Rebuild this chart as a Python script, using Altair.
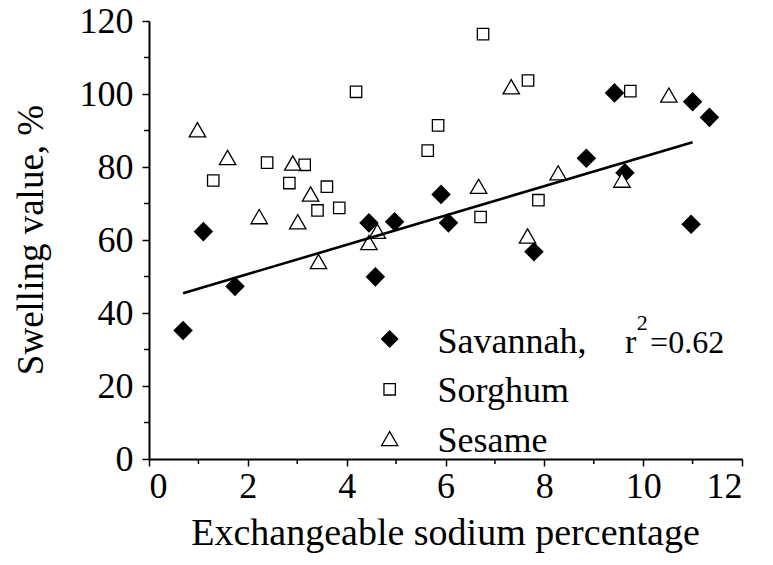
import altair as alt
import pandas as pd

# Savannah (filled diamonds)
sav_x = [0.69, 1.10, 1.74, 4.45, 4.58, 4.97, 5.91, 6.06, 7.79, 8.85, 9.42, 9.63, 10.97, 11.00, 11.34]
sav_y = [35.2, 62.3, 47.3, 64.7, 49.9, 65.0, 72.5, 64.7, 56.8, 82.4, 100.3, 78.4, 64.3, 97.9, 93.6]
# Sorghum (open squares)
sor_x = [1.30, 2.39, 2.84, 3.15, 3.41, 3.60, 3.85, 4.19, 5.64, 5.85, 6.71, 6.76, 7.67, 7.88, 9.74]
sor_y = [76.3, 81.2, 75.6, 80.6, 68.1, 74.6, 68.8, 100.6, 84.5, 91.4, 66.3, 116.4, 103.7, 70.9, 100.8]
# Sesame (open triangles)
ses_x = [0.98, 1.59, 2.23, 2.91, 3.01, 3.27, 3.43, 4.45, 4.62, 6.67, 7.33, 7.66, 8.28, 9.57, 10.52]
ses_y = [90.2, 82.6, 66.4, 81.1, 65.0, 72.6, 54.1, 59.3, 62.4, 74.7, 102.0, 61.1, 78.4, 76.4, 99.7]
# Savannah fit line end points
fit_x = [0.69, 11.0]
fit_y = [45.4, 86.8]

legend_labels = ["Savannah,", "Sorghum", "Sesame"]
x_major = [0, 2, 4, 6, 8, 10, 12]
y_major = [0, 20, 40, 60, 80, 100, 120]
x_minor = [1, 3, 5, 7, 9, 11]
y_minor = [10, 30, 50, 70, 90, 110]
x_title = "Exchangeable sodium percentage"
y_title = "Swelling value, %"

F = "Liberation Serif"
PLOT_H = 438

xs = alt.Scale(domain=[0, 12])
ys = alt.Scale(domain=[0, 120])

xaxis = alt.Axis(values=x_major, labelFont=F, labelFontSize=36, title=None, grid=False, tickSize=7,
                 labelPadding=3, domainColor="black", tickColor="black",
                 domainWidth=2, tickWidth=1.5, labelColor="black")
yaxis = alt.Axis(values=y_major, labelFont=F, labelFontSize=36, title=None, grid=False, tickSize=7,
                 labelPadding=9, domainColor="black", tickColor="black",
                 domainWidth=2, tickWidth=1.5, labelColor="black")

def pts(xv, yv):
    return pd.DataFrame({"x": xv, "y": yv})

sav = alt.Chart(pts(sav_x, sav_y)).mark_point(shape="diamond", filled=True, fill="black",
                                              stroke="black", size=280, opacity=1).encode(
    x=alt.X("x:Q", scale=xs, axis=xaxis), y=alt.Y("y:Q", scale=ys, axis=yaxis))
sor = alt.Chart(pts(sor_x, sor_y)).mark_point(shape="square", filled=True, fill="white",
                                              stroke="black", strokeWidth=1.3, size=130, opacity=1).encode(
    x=alt.X("x:Q", scale=xs), y=alt.Y("y:Q", scale=ys))
ses = alt.Chart(pts(ses_x, ses_y)).mark_point(shape="triangle-up", filled=True, fill="white",
                                              stroke="black", strokeWidth=1.3, size=270, opacity=1).encode(
    x=alt.X("x:Q", scale=xs), y=alt.Y("y:Q", scale=ys))
fit = alt.Chart(pts(fit_x, fit_y)).mark_line(color="black", strokeWidth=2.6).encode(
    x=alt.X("x:Q", scale=xs), y=alt.Y("y:Q", scale=ys))

# minor ticks (outward, shorter than major ticks)
xminor = alt.Chart(pd.DataFrame({"x": x_minor})).mark_rule(color="black", strokeWidth=1.5).encode(
    x=alt.X("x:Q", scale=xs), y=alt.value(PLOT_H), y2=alt.value(PLOT_H + 5))
yminor = alt.Chart(pd.DataFrame({"y": y_minor})).mark_rule(color="black", strokeWidth=1.5).encode(
    y=alt.Y("y:Q", scale=ys), x=alt.value(0), x2=alt.value(-5))

# Custom legend
leg_sym_x = 4.87
leg_sym_y = [32.9, 19.1, 5.6]
leg_txt_x = 5.84
leg_txt_y = [29.0, 15.6, 1.9]

def sym(y, shape, fill, size):
    return alt.Chart(pts([leg_sym_x], [y])).mark_point(shape=shape, filled=True, fill=fill, stroke="black",
                                                       strokeWidth=1.3, size=size, opacity=1).encode(
        x=alt.X("x:Q", scale=xs), y=alt.Y("y:Q", scale=ys))

lsav = sym(leg_sym_y[0], "diamond", "black", 260)
lsor = sym(leg_sym_y[1], "square", "white", 130)
lses = sym(leg_sym_y[2], "triangle-up", "white", 260)

def txt(xv, yv, t, size, align="left", angle=0):
    return alt.Chart(pd.DataFrame({"x": xv, "y": yv, "t": t})).mark_text(
        font=F, fontSize=size, align=align, baseline="alphabetic", color="black", angle=angle).encode(
        x=alt.X("x:Q", scale=xs), y=alt.Y("y:Q", scale=ys), text="t:N")

ltxt = txt([leg_txt_x] * 3, leg_txt_y, legend_labels, 36)
r_txt = txt([9.63], [29.0], ["r"], 34)
sup_txt = txt([9.87], [35.4], ["2"], 22)
val_txt = txt([10.14], [29.0], ["=0.62"], 32)

# axis titles as text (normal-weight serif)
xt = txt([6.0], [-23.5], [x_title], 38, align="center")
yt = txt([-2.15], [60.0], [y_title], 37, align="center", angle=270)

chart = alt.layer(sav, sor, ses, fit, xminor, yminor, lsav, lsor, lses, ltxt, r_txt, sup_txt, val_txt,
                  xt, yt).properties(
    width=593, height=PLOT_H,
    autosize=alt.AutoSizeParams(type="none"),
    padding={"left": 141, "top": 13, "right": 20, "bottom": 95},
).configure(background="white").configure_view(stroke=None)

chart.save("out.html", embed_options={"renderer": "svg", "actions": False})
